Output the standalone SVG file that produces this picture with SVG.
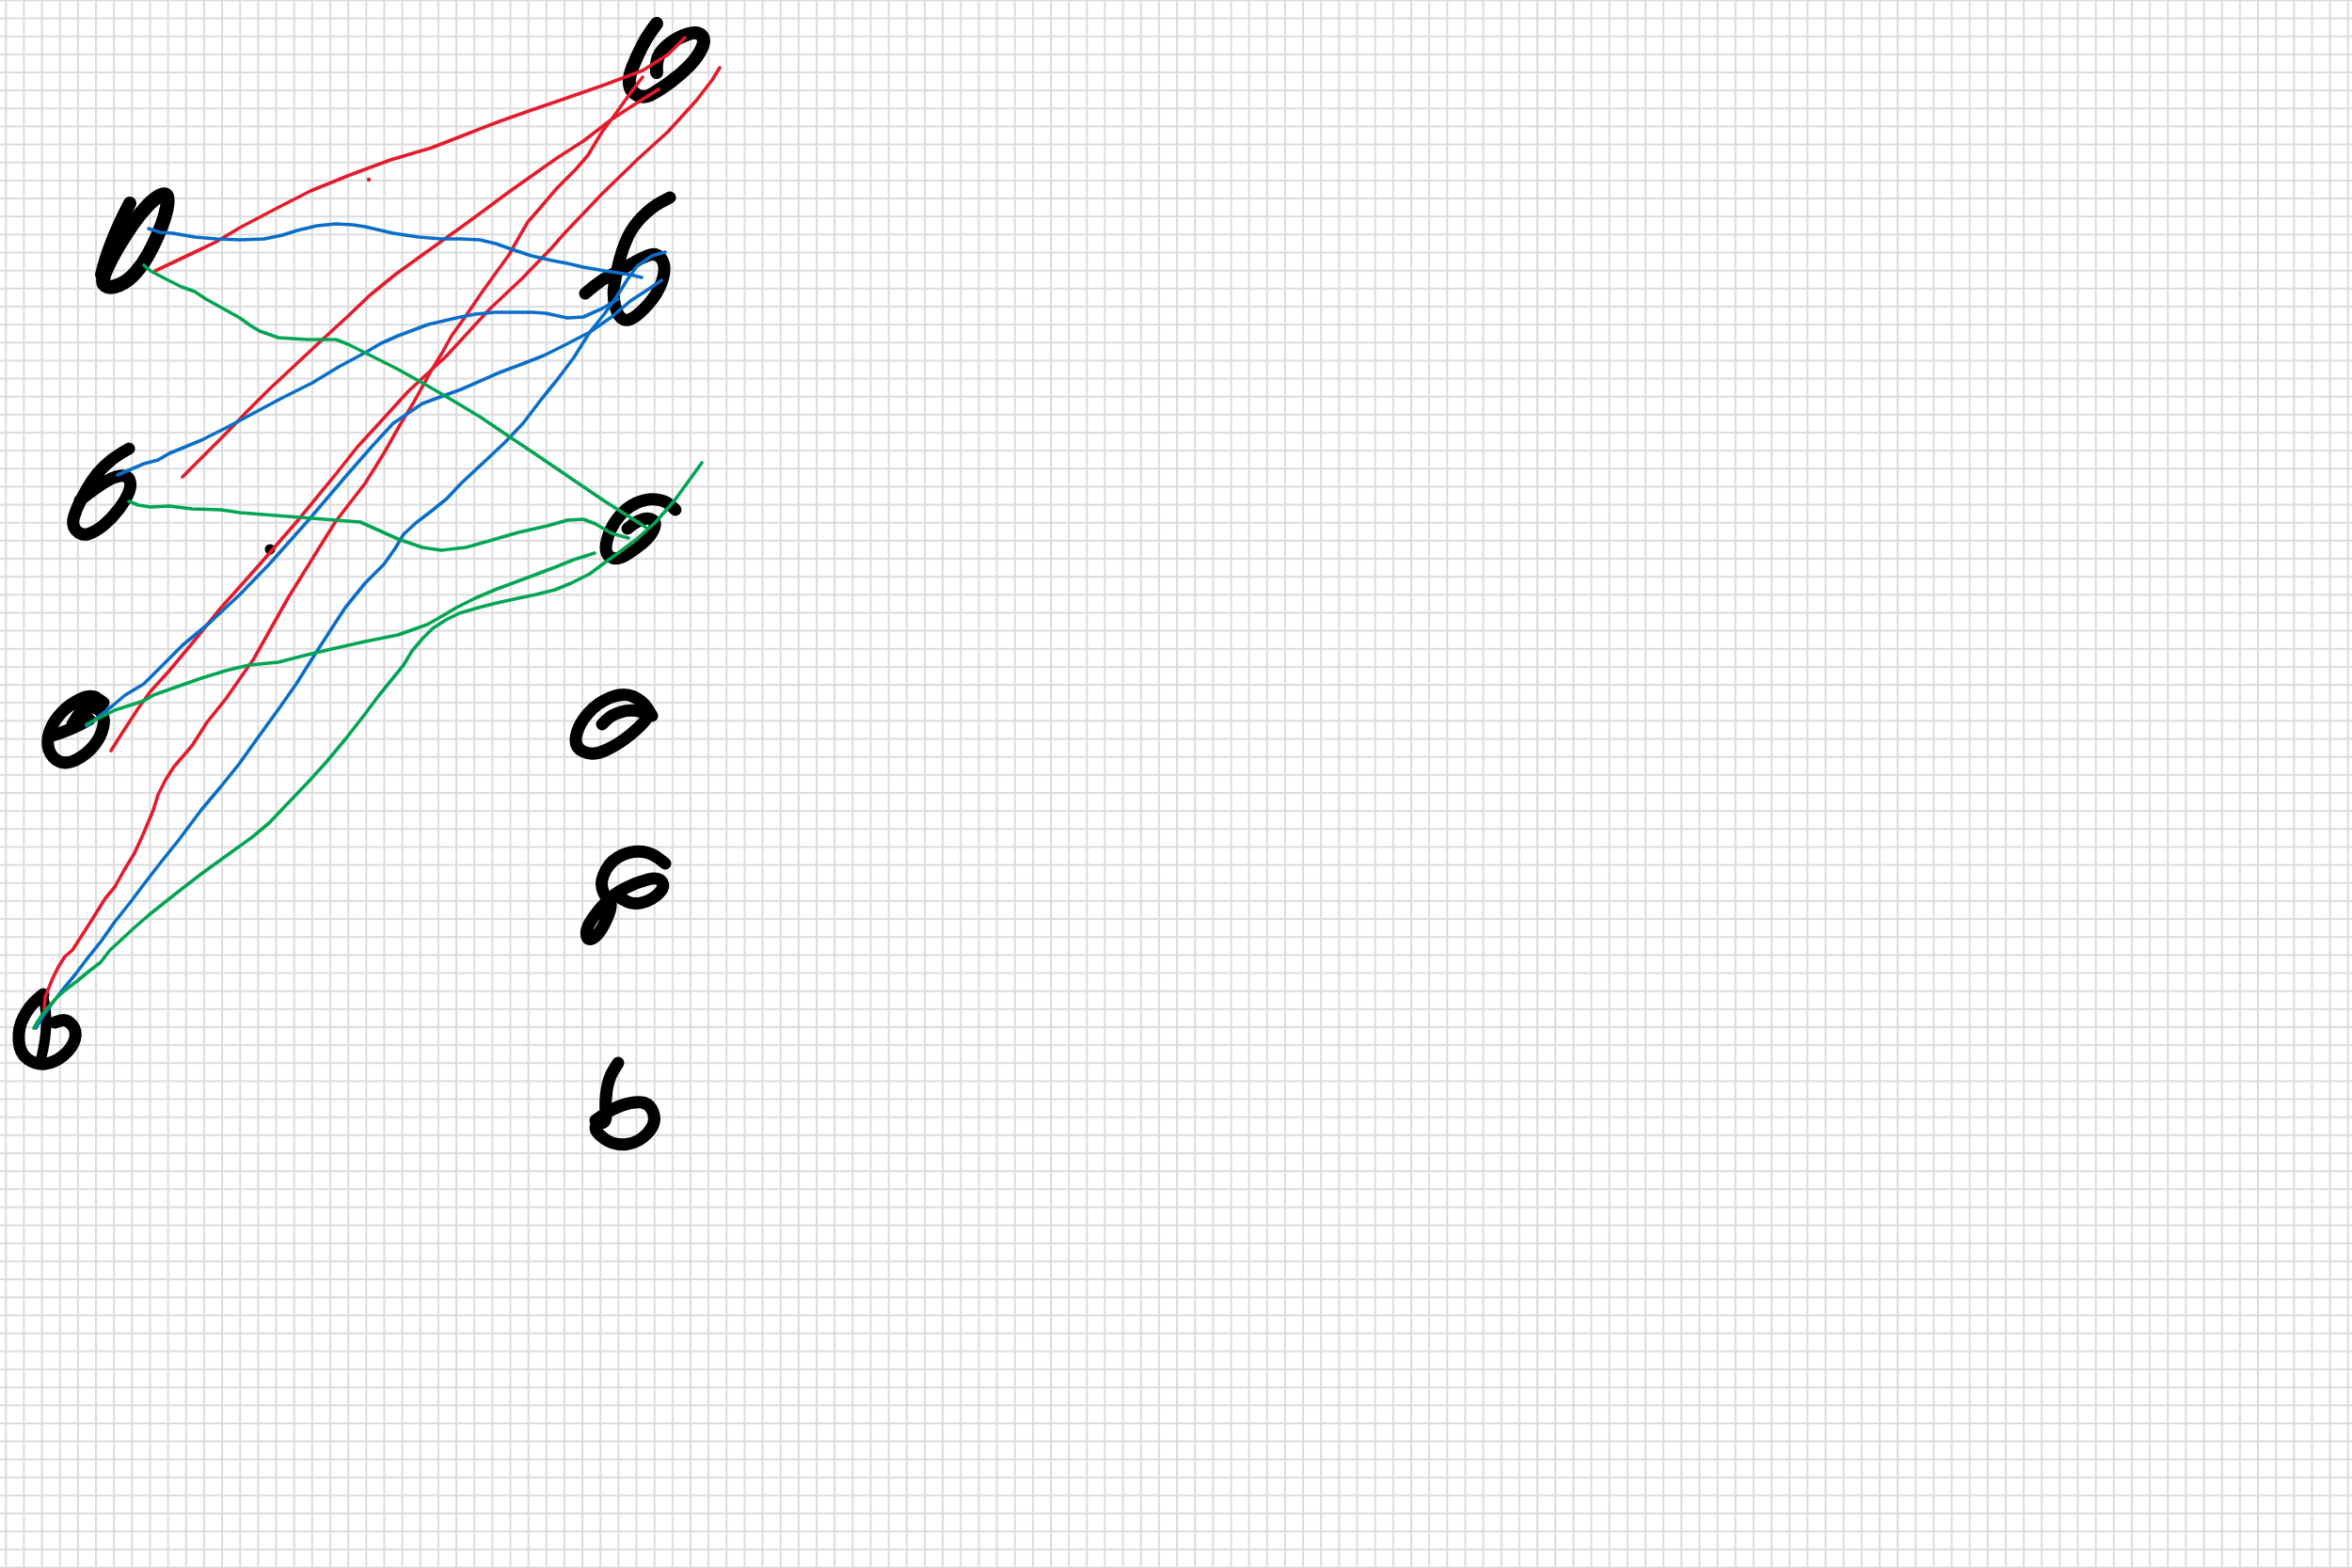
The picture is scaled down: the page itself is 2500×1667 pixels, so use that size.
<svg xmlns="http://www.w3.org/2000/svg" width="2500" height="1667" viewBox="0 0 2500 1667">
<style>
.ink{fill:none;stroke:#000;stroke-width:13;stroke-linecap:round;stroke-linejoin:round}
.ln{fill:none;stroke-width:3.6;stroke-linecap:round;stroke-linejoin:round}
.r{stroke:#e31b2b}
.b{stroke:#0a6ec8}
.g{stroke:#03a453}
</style>
<defs>
<pattern id="grid" patternUnits="userSpaceOnUse" x="5.3" y="-0.6" width="19.15" height="19.15">
<rect x="0" y="0" width="2" height="19.15" fill="#dcdcdc"/>
<rect x="0" y="0" width="19.15" height="2" fill="#dcdcdc"/>
</pattern>
</defs>
<rect width="2500" height="1667" fill="#ffffff"/>
<rect width="2500" height="1667" fill="url(#grid)"/>
<g id="nodes">
<g id="node-tr"><path class="ink" style="stroke-width:14" d="M698,25 L692.5,32.5 Q687,40 682,50 Q677,60 672.5,71 Q668,82 669,89.5 Q670,97 677,101 Q684,105 693,100 Q702,95 713.5,86.5 Q725,78 733.5,69 Q742,60 746,51 Q750,42 745.5,37.5 Q741,33 730.5,36.5 Q720,40 711.5,46.5 Q703,53 700,60 Q697,67 698,77"/></g>
<g id="node-l1"><path class="ink" style="stroke-width:15" d="M170,208 Q164,211 156,219.5 Q148,228 140.5,239 Q133,250 125.5,262.5 Q118,275 112.5,287.5 Q107,300 112,303.5 Q117,307 126.5,303 Q136,299 144,290 Q152,281 158.5,269 Q165,257 170,244.5 Q175,232 177,222.5 Q179,213 177.5,209 Q176,205 170,208 Z"/><path class="ink" style="stroke-width:14" d="M138,216 C128,235 115,262 108,292"/></g>
<g id="node-r2"><path class="ink" d="M712,210 L702.5,215 Q693,220 683,230 Q673,240 667.5,251.5 Q662,263 658.5,276.5 Q655,290 653,302.5 Q651,315 654,326 Q657,337 662.5,339.5 Q668,342 676.5,335.5 Q685,329 693.5,318 Q702,307 705,294.5 Q708,282 703,275 Q698,268 689,271.5 Q680,275 670,281 Q660,287 650,292 Q640,297 631,304.5 L622,312"/></g>
<g id="node-l2"><path class="ink" d="M137,477 L128.5,482 Q120,487 111.5,495 Q103,503 97.5,511.5 Q92,520 86.5,530.5 Q81,541 78.5,550 Q76,559 81.5,564.5 Q87,570 94.5,567.5 Q102,565 110.5,558 Q119,551 126.5,541 Q134,531 137,523 Q140,515 137.5,510 Q135,505 127.5,506 Q120,507 110,513.5 Q100,520 92.5,526 L85,532"/></g>
<g id="node-r3"><path class="ink" d="M718,542 L712.5,537 Q707,532 697,531 Q687,530 676,535 Q665,540 656.5,551 Q648,562 645,575 Q642,588 648.5,592 Q655,596 664.5,590.5 Q674,585 682.5,578 Q691,571 694.5,563.5 Q698,556 694,553 Q690,550 683.5,552 Q677,554 672,558 L667,562"/></g>
<g id="node-l3"><path class="ink" d="M110,747 L103.5,742.5 Q97,738 86,743 Q75,748 66,757 Q57,766 53,777 Q49,788 52,797 Q55,806 63,809.5 Q71,813 81.5,807.5 Q92,802 99.5,793 Q107,784 109.5,773.5 Q112,763 107.5,757 Q103,751 95,752.5 Q87,754 82,762 L77,770"/><path class="ink" d="M52,783 Q75,777 95,765"/></g>
<g id="node-r4"><path class="ink" d="M693,761 L688,753 Q683,745 673,740.5 Q663,736 649,741.5 Q635,747 625,758.5 Q615,770 612.5,782 Q610,794 620,799 Q630,804 644,797.5 Q658,791 669.5,781.5 Q681,772 686,765.5 Q691,759 680.5,756.5 Q670,754 660,757 Q650,760 645,765 L640,770"/></g>
<g id="node-r5"><path class="ink" d="M707,918 L700,912.5 Q693,907 683,905.5 Q673,904 661.5,909 Q650,914 644,925 Q638,936 640,944 Q642,952 646,955 Q650,958 649,964.5 Q648,971 642.5,982 Q637,993 631,997 Q625,1001 623.5,994.5 Q622,988 629.5,977 Q637,966 645,958 Q653,950 665,944 Q677,938 688.5,935 Q700,932 703.5,937.5 Q707,943 700,950 Q693,957 683,959.5 Q673,962 666.5,958.5 L660,955"/></g>
<g id="node-l4"><path class="ink" d="M46,1057 L38.5,1063.5 Q31,1070 25,1081.5 Q19,1093 20,1106.5 Q21,1120 29.5,1126 Q38,1132 48,1131 Q58,1130 67.5,1122 Q77,1114 79.5,1105 Q82,1096 76.5,1089.5 Q71,1083 64.5,1085 L58,1087"/><path class="ink" style="stroke-width:11" d="M46,1060 Q53,1088 44,1124"/></g>
<g id="node-r6"><path class="ink" d="M657,1130 L652,1138 Q647,1146 645,1158.5 Q643,1171 644,1182 Q645,1193 639,1194 Q633,1195 633,1199.5 Q633,1204 643,1211 Q653,1218 666,1216.5 Q679,1215 688.5,1204.5 Q698,1194 694.5,1183.5 Q691,1173 682,1172 Q673,1171 661.5,1175 Q650,1179 641.5,1185 L633,1191"/></g>
<g id="dot"><circle cx="287" cy="584" r="5.5" fill="#000"/></g>
</g>
<g id="connectors">
<circle cx="392" cy="191" r="2.2" fill="#e31b2b"/>
<path class="ln r" d="M165,288 L207,268 L230,257 L255,242 L291,223 L330,203 L372,186 L415,170 L459,157 L500,141 L531,129 L565,117 L600,105 L643,90 L683,75 L710,58 L728,40"/>
<path class="ln r" d="M194,507 L217,484 L240,461 L263,437 L286,414 L316,386 L347,357 L370,336 L393,314 L420,292 L449,271 L495,238 L541,204 L575,180 L592,168 L620,150 L650,127 L676,110 L700,95"/>
<path class="ln r" d="M765,72 L757,85 L740,107 L710,140 L677,170 L640,206 L600,248 L586,264 L555,296 L520,329 L474,379 L434,416 L403,450 L380,475 L357,504 L316,554 L276,600 L235,646 L205,683 L180,713 L160,735 L147,753 L130,779 L118,798"/>
<path class="ln r" d="M683,82 L673,95 L660,113 L650,127 L640,140 L625,165 L612,180 L592,200 L575,220 L561,236 L550,255 L541,271 L525,293 L510,314 L495,336 L480,357 L470,375 L459,393 L439,429 L425,452 L408,482 L388,514 L357,554 L337,586 L306,636 L288,668 L270,700 L240,743 L220,768 L204,793 L185,815 L176,829 L168,845 L163,861 L153,885 L143,907 L132,925 L122,943 L112,955 L102,971 L90,990 L77,1010 L69,1017 L62,1028 L56,1040 L50,1055 L48,1060 L47,1073"/>
<path class="ln b" d="M158,243 L170,247 L184,248 L207,252 L230,254 L255,255 L281,254 L300,250 L316,245 L337,240 L357,238 L375,239 L388,241 L418,248 L445,252 L469,254 L490,254 L510,255 L527,259 L541,264 L565,272 L587,277 L603,280 L620,284 L643,288 L670,292 L682,295"/>
<path class="ln b" d="M125,505 L153,493 L168,489 L180,482 L214,468 L240,455 L270,439 L300,423 L332,407 L360,390 L388,375 L405,365 L423,357 L455,345 L485,338 L505,334 L526,332 L545,332 L566,332 L580,333 L603,338 L620,337 L640,328 L657,318"/>
<path class="ln b" d="M92,772 L120,750 L133,739 L153,727 L173,707 L180,700 L194,686 L224,661 L255,632 L286,600 L327,554 L367,507 L395,475 L418,450 L449,429 L490,414 L531,396 L555,387 L578,378 L600,367 L627,353 L650,337 L670,320 L690,307 L703,298"/>
<path class="ln b" d="M38,1093 L46,1080 L56,1066 L66,1053 L80,1036 L92,1020 L108,1000 L122,980 L138,960 L153,940 L170,918 L190,893 L214,861 L235,836 L255,811 L275,783 L296,754 L315,727 L332,700 L350,672 L367,646 L388,620 L408,600 L420,583 L429,568 L442,556 L459,543 L475,530 L490,514 L505,500 L520,486 L536,471 L556,450 L575,425 L592,404 L610,380 L627,353 L643,333 L657,313 L667,297 L677,283 L693,272 L707,268"/>
<path class="ln g" d="M153,282 L160,288 L177,297 L193,305 L207,310 L219,318 L237,328 L255,338 L266,346 L276,352 L296,359 L327,361 L345,361 L357,361 L370,366 L388,375 L420,391 L449,407 L480,425 L510,443 L541,464 L565,480 L590,497 L612,512 L643,533 L665,547 L687,561"/>
<path class="ln g" d="M137,533 L147,537 L160,539 L180,538 L204,541 L235,542 L255,545 L280,547 L306,549 L357,553 L383,555 L403,564 L423,573 L449,582 L469,585 L495,582 L520,575 L551,566 L582,559 L603,553 L620,552 L633,557 L650,567 L668,572"/>
<path class="ln g" d="M746,492 L733,510 L717,532 L697,555 L677,573 L657,588 L643,598 L627,610 L607,620 L590,627 L570,632 L551,636 L528,641 L505,647 L488,652 L474,659 L460,668 L449,679 L438,692 L429,707 L416,723 L403,739 L385,763 L367,786 L347,810 L327,832 L306,854 L286,875 L268,890 L250,903 L232,916 L214,929 L192,946 L173,961 L158,973 L143,986 L128,1000 L117,1010 L107,1023 L94,1033 L82,1043 L70,1052 L61,1060 L52,1070 L46,1077 L40,1086 L36,1093"/>
<path class="ln g" d="M92,770 L122,755 L153,745 L163,739 L180,733 L214,721 L240,713 L265,707 L296,704 L327,696 L357,689 L388,682 L423,675 L454,664 L470,655 L485,646 L505,636 L526,627 L561,614 L590,603 L610,595 L632,588"/>
</g>
</svg>
